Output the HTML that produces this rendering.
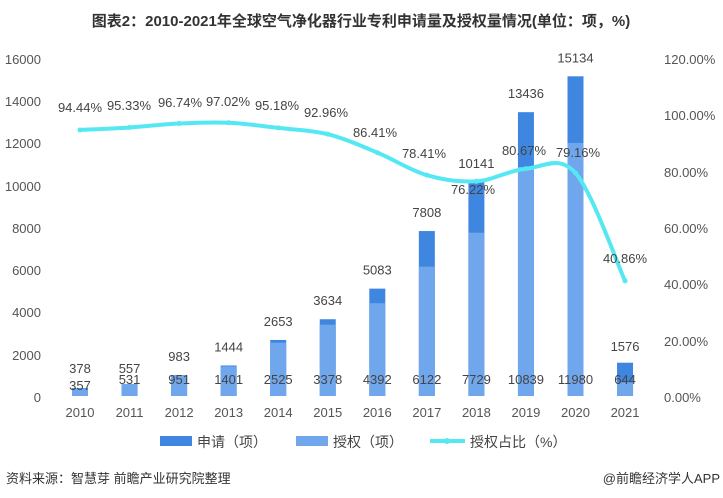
<!DOCTYPE html>
<html><head><meta charset="utf-8"><style>
body{margin:0;background:#fff}
svg{display:block;font-family:"Liberation Sans","Noto Sans CJK SC",sans-serif}
</style></head><body>
<svg width="723" height="498" viewBox="0 0 723 498">
<text x="361" y="26" text-anchor="middle" font-size="15" font-weight="bold" fill="#333">图表2：2010-2021年全球空气净化器行业专利申请量及授权量情况(单位：项，%)</text>
<g font-size="13" fill="#555">
<text x="41" y="64" text-anchor="end">16000</text>
<text x="41" y="106" text-anchor="end">14000</text>
<text x="41" y="148" text-anchor="end">12000</text>
<text x="41" y="191" text-anchor="end">10000</text>
<text x="41" y="233" text-anchor="end">8000</text>
<text x="41" y="275" text-anchor="end">6000</text>
<text x="41" y="317" text-anchor="end">4000</text>
<text x="41" y="360" text-anchor="end">2000</text>
<text x="41" y="402" text-anchor="end">0</text>
<text x="664" y="64">120.00%</text>
<text x="664" y="120">100.00%</text>
<text x="664" y="177">80.00%</text>
<text x="664" y="233">60.00%</text>
<text x="664" y="289">40.00%</text>
<text x="664" y="346">20.00%</text>
<text x="664" y="402">0.00%</text>
</g>
<g id="bars"></g>
<g id="line"></g>
<g font-size="13" fill="#444" id="labels"></g>
<g font-size="13" fill="#555" id="xl"></g>
<g font-size="14" fill="#444">
<rect x="160" y="436" width="32" height="10" fill="#3f86e0"/><text x="197" y="447">申请（项）</text>
<rect x="296" y="436" width="32" height="10" fill="#6fa6ec"/><text x="333" y="447">授权（项）</text>
<line x1="430" y1="441" x2="465" y2="441" stroke="#55e8f2" stroke-width="4"/><circle cx="447" cy="441" r="3" fill="#55e8f2"/><text x="470" y="447">授权占比（%）</text>
</g>
<text x="6" y="483" font-size="13" fill="#333">资料来源：智慧芽 前瞻产业研究院整理</text>
<text x="720" y="483" font-size="13" fill="#333" text-anchor="end">@前瞻经济学人APP</text>
<script>
var years=[2010,2011,2012,2013,2014,2015,2016,2017,2018,2019,2020,2021];
var app=[378,557,983,1444,2653,3634,5083,7808,10141,13436,15134,1576];
var gr=[357,531,951,1401,2525,3378,4392,6122,7729,10839,11980,644];
var pct=[94.44,95.33,96.74,97.02,95.18,92.96,86.41,78.41,76.22,80.67,79.16,40.86];
var ns="http://www.w3.org/2000/svg";
function el(p,t,a,txt){var e=document.createElementNS(ns,t);for(var k in a)e.setAttribute(k,a[k]);if(txt!==undefined)e.textContent=txt;document.getElementById(p).appendChild(e);return e;}
function X(i){return 80+i*49.55;}
function Y(v){return 396-v*0.021125;}
function P(v){return 396-v*2.8167;}
var pts=[];
for(var i=0;i<12;i++){
 var x=X(i);
 el("bars","rect",{x:x-8,y:Y(app[i]),width:16,height:396-Y(app[i]),fill:"#3f86e0"});
 el("bars","rect",{x:x-8,y:Y(gr[i]),width:16,height:396-Y(gr[i]),fill:"#6fa6ec"});
 el("xl","text",{x:x,y:417,"text-anchor":"middle"},years[i]);
 pts.push([x,P(pct[i])]);
}
var d="M"+pts[0][0]+","+pts[0][1];
for(var i=0;i<11;i++){
 var p0=pts[Math.max(0,i-1)],p1=pts[i],p2=pts[i+1],p3=pts[Math.min(11,i+2)];
 var c1=[p1[0]+(p2[0]-p0[0])/6,p1[1]+(p2[1]-p0[1])/6];
 var c2=[p2[0]-(p3[0]-p1[0])/6,p2[1]-(p3[1]-p1[1])/6];
 d+=" C"+c1+" "+c2+" "+p2;
}
el("line","path",{d:d,fill:"none",stroke:"#55e8f2","stroke-width":4});
pts.forEach(function(p){el("line","circle",{cx:p[0],cy:p[1],r:2.5,fill:"#55e8f2"});});
var lx=[80,129,180,228,277,326,375,424,473,524,578,625];
var ly=[112,110,107,106,110,117,137,158,194,155,157,263];
for(var i=0;i<12;i++){
 el("labels","text",{x:lx[i],y:ly[i],"text-anchor":"middle"},pct[i].toFixed(2)+"%");
 var ay=Y(app[i])-14; if(i<2) ay=373; if(i==11) ay=351;
 el("labels","text",{x:X(i),y:ay,"text-anchor":"middle"},app[i]);
 el("labels","text",{x:X(i),y:i==0?390:384,"text-anchor":"middle"},gr[i]);
}
</script>
</svg>
</body></html>
